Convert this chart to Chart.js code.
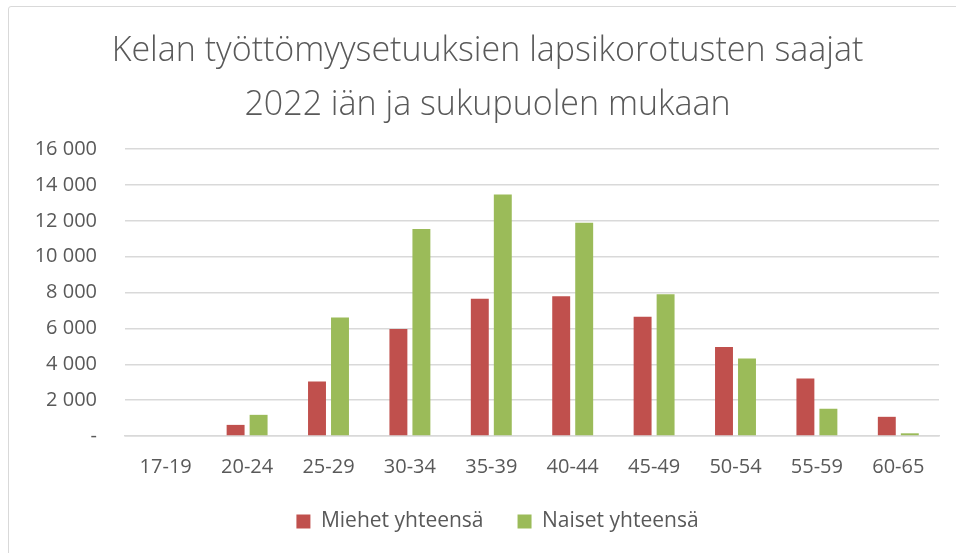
<!DOCTYPE html>
<html><head><meta charset="utf-8">
<script src="https://cdn.jsdelivr.net/npm/chart.js@4.4.1/dist/chart.umd.min.js"></script>
<style>
html,body{margin:0;padding:0;background:#fff;overflow:hidden;}
#wrap{position:absolute;left:0;top:0;width:956px;height:553px;}
#frame{position:absolute;left:8px;top:6px;width:1000px;height:600px;border:1.5px solid #d9d9d9;border-radius:3px;box-sizing:border-box;pointer-events:none;}
</style></head>
<body>
<div id="wrap"><canvas id="c" width="956" height="553"></canvas><div id="frame"></div></div>
<script>
const categories = ['17-19','20-24','25-29','30-34','35-39','40-44','45-49','50-54','55-59','60-65'];
const miehet = [0, 620, 3040, 5970, 7660, 7790, 6650, 4960, 3210, 1070];
const naiset = [0, 1180, 6610, 11550, 13470, 11890, 7910, 4320, 1520, 150];
const seriesNames = ['Miehet yhteensä','Naiset yhteensä'];
const titleLines = ['Kelan työttömyysetuuksien lapsikorotusten saajat','2022 iän ja sukupuolen mukaan'];

const FONT = "'Open Sans', 'Liberation Sans', sans-serif";
const shiftBoxes = {
  id: 'shiftBoxes',
  afterLayout(chart) {
    if (chart.legend) { chart.legend.left += 28; chart.legend.right += 28; }
    if (chart.titleBlock) { chart.titleBlock.left += 18; chart.titleBlock.right += 18; }
  }
};
new Chart(document.getElementById('c'), {
  type: 'bar',
  plugins: [shiftBoxes],
  data: {
    labels: categories,
    datasets: [
      {label: seriesNames[0], data: miehet, backgroundColor: '#C0504D', borderWidth:0, barPercentage: 0.78, categoryPercentage: 0.565},
      {label: seriesNames[1], data: naiset, backgroundColor: '#9BBB59', borderWidth:0, barPercentage: 0.78, categoryPercentage: 0.565}
    ]
  },
  options: {
    responsive: false,
    animation: false,
    layout: {padding: {left: 0, right: 17, top: 0, bottom: 11}},
    plugins: {
      title: {display: true, text: titleLines, color: '#595959',
        font: {family: FONT, size: 34, weight: 300, lineHeight: 1.59}, padding: {top: 24, bottom: 17}},
      legend: {position: 'bottom', labels: {color: '#595959', font: {family: FONT, size: 21}, boxWidth: 14, boxHeight: 14, padding: 34}},
      tooltip: {enabled: false}
    },
    scales: {
      x: {
        afterFit: s => { s.height = 41; },
        grid: {display: false, drawTicks: false},
        border: {color: '#d9d9d9', width: 1.5},
        ticks: {color: '#595959', font: {family: FONT, size: 20}, padding: 19}
      },
      y: {
        min: 0, max: 16000,
        afterFit: s => { s.width = 125; },
        grid: {color: '#d9d9d9', lineWidth: 1.5, drawTicks: false},
        border: {display: false},
        ticks: {stepSize: 2000, color: '#595959', font: {family: FONT, size: 20}, padding: 28,
          callback: v => v === 0 ? '-' : v.toLocaleString('en-US').replace(/,/g, ' ')}
      }
    }
  }
});
</script>
</body></html>
